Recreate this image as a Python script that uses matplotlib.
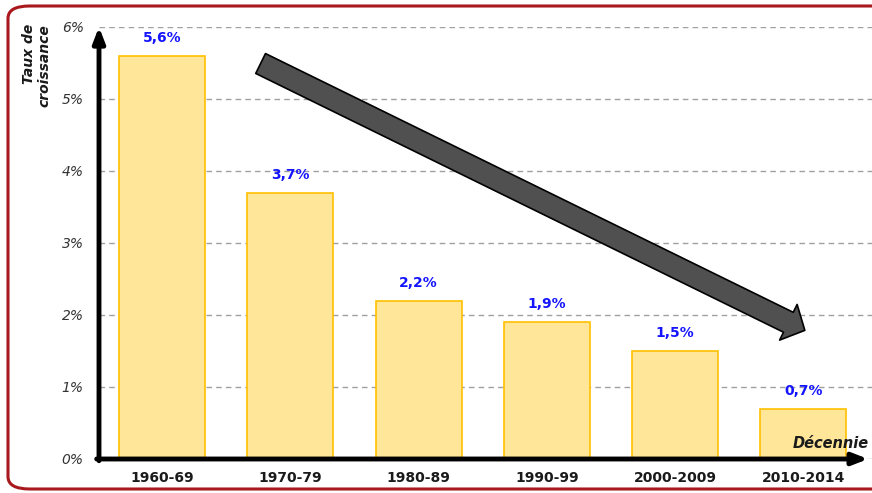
import matplotlib.pyplot as plt
from matplotlib.patches import FancyBboxPatch, FancyArrowPatch

# Données
decennies = ["1960-69", "1970-79", "1980-89", "1990-99", "2000-2009", "2010-2014"]
taux = [5.6, 3.7, 2.2, 1.9, 1.5, 0.7]
etiquettes = ["5,6%", "3,7%", "2,2%", "1,9%", "1,5%", "0,7%"]
graduations = [0, 1, 2, 3, 4, 5, 6]

plt.rcParams['font.family'] = ['DejaVu Sans']

fig = plt.figure(figsize=(8.72, 4.93), dpi=100)
W, H = 872, 493

# Cadre arrondi rouge
cadre = FancyBboxPatch((8 / W, 4 / H), 900 / W, 483 / H,
                       boxstyle="round,pad=0,rounding_size=0.025",
                       transform=fig.transFigure, facecolor="none",
                       edgecolor="#a8181c", linewidth=2.2, zorder=-1)
fig.patches.append(cadre)

ax = fig.add_axes([99 / W, 34 / H, 773 / W, 432 / H])
ax.set_facecolor("none")

x = list(range(len(decennies)))
ax.bar(x, taux, width=0.67, color="#ffe699", edgecolor="#ffc000", linewidth=1.2, zorder=2)

for xi, v, lab in zip(x, taux, etiquettes):
    ax.annotate(lab, (xi, v), xytext=(0, 13), textcoords="offset points",
                ha="center", va="center", color="#1414ff", fontweight="bold",
                fontsize=10, zorder=4)

ax.set_xlim(-0.49, 5.534)
ax.set_ylim(0, 6)
ax.set_yticks(graduations)
ax.set_yticklabels([f"{g}%" for g in graduations], fontstyle="italic",
                   fontsize=10, color="#333333")
ax.set_xticks(x)
ax.set_xticklabels(decennies, fontweight="bold", fontsize=10, color="#1a1a1a")
ax.tick_params(axis="both", length=0)
ax.tick_params(axis="y", pad=11)
ax.tick_params(axis="x", pad=9)
ax.grid(axis="y", linestyle=(0, (4, 3)), color="#a0a0a0", linewidth=1, zorder=1)
for s in ax.spines.values():
    s.set_visible(False)

# Axes avec flèches
ax.annotate("", xy=(0, 1.0), xytext=(0, -0.004), xycoords="axes fraction",
            arrowprops=dict(arrowstyle="-|>,head_length=0.9,head_width=0.35",
                            color="black", lw=3.5, shrinkA=0, shrinkB=0),
            zorder=5, annotation_clip=False)
ax.annotate("", xy=(0.995, 0), xytext=(-0.003, 0), xycoords="axes fraction",
            arrowprops=dict(arrowstyle="-|>,head_length=0.9,head_width=0.35",
                            color="black", lw=3.5, shrinkA=0, shrinkB=0),
            zorder=5, annotation_clip=False)

# Grande flèche de tendance
fleche = FancyArrowPatch((0.75, 5.51), (5.03, 1.77),
                         arrowstyle="simple,head_length=1.2,head_width=2.6,tail_width=1.45",
                         mutation_scale=11, facecolor="#505050", edgecolor="black",
                         linewidth=1.2, zorder=3)
ax.add_patch(fleche)

fig.text(37 / W, 1 - 24 / H, "Taux de\ncroissance", rotation=90, ha="center", va="top",
         multialignment="right", fontweight="bold", fontstyle="italic", fontsize=10,
         color="#1a1a1a", linespacing=1.15)
fig.text(869 / W, 1 - 443 / H, "Décennie", ha="right", va="center",
         fontweight="bold", fontstyle="italic", fontsize=10.5, color="#1a1a1a")

fig.savefig("out.png", dpi=100)
